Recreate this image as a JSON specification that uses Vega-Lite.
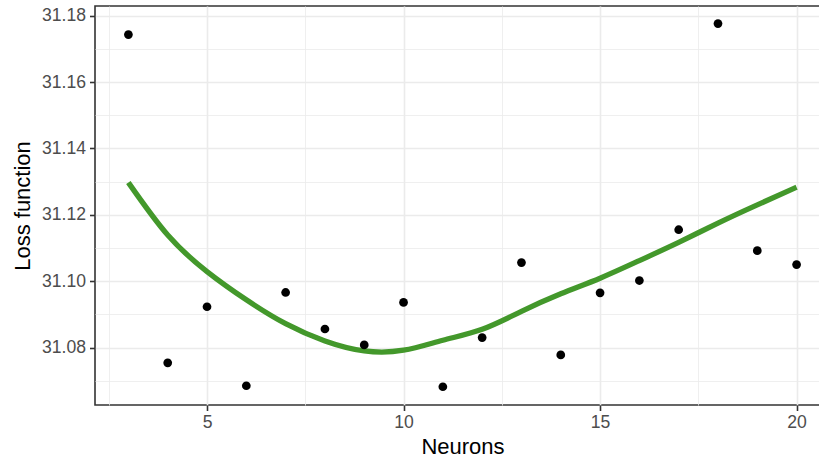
{
  "$schema": "https://vega.github.io/schema/vega-lite/v6.json",
  "width": 735,
  "height": 399,
  "autosize": {"type": "none"},
  "padding": {"left": 95, "top": 6, "right": 0, "bottom": 54},
  "background": "white",
  "config": {
    "view": {"stroke": "#333333", "strokeWidth": 1.6},
    "font": "Liberation Sans"
  },
  "datasets": {
    "points": [
      {"neurons": 3, "loss": 31.1743},
      {"neurons": 4, "loss": 31.0754},
      {"neurons": 5, "loss": 31.0923},
      {"neurons": 6, "loss": 31.0685},
      {"neurons": 7, "loss": 31.0966},
      {"neurons": 8, "loss": 31.0856},
      {"neurons": 9, "loss": 31.0808},
      {"neurons": 10, "loss": 31.0936},
      {"neurons": 11, "loss": 31.0682},
      {"neurons": 12, "loss": 31.0830},
      {"neurons": 13, "loss": 31.1056},
      {"neurons": 14, "loss": 31.0778},
      {"neurons": 15, "loss": 31.0965},
      {"neurons": 16, "loss": 31.1002},
      {"neurons": 17, "loss": 31.1155},
      {"neurons": 18, "loss": 31.1776},
      {"neurons": 19, "loss": 31.1092},
      {"neurons": 20, "loss": 31.1050}
    ],
    "smooth": [
      {"neurons": 3, "loss": 31.1297},
      {"neurons": 4, "loss": 31.1139},
      {"neurons": 5, "loss": 31.1029},
      {"neurons": 6, "loss": 31.0944},
      {"neurons": 7, "loss": 31.0872},
      {"neurons": 8, "loss": 31.0820},
      {"neurons": 9, "loss": 31.0790},
      {"neurons": 10, "loss": 31.0792},
      {"neurons": 11, "loss": 31.0822},
      {"neurons": 12, "loss": 31.0855},
      {"neurons": 13, "loss": 31.0909},
      {"neurons": 14, "loss": 31.0962},
      {"neurons": 15, "loss": 31.1009},
      {"neurons": 16, "loss": 31.1062},
      {"neurons": 17, "loss": 31.1117},
      {"neurons": 18, "loss": 31.1175},
      {"neurons": 19, "loss": 31.1230},
      {"neurons": 20, "loss": 31.1283}
    ]
  },
  "encoding": {
    "x": {
      "field": "neurons",
      "type": "quantitative",
      "scale": {"domain": [2.15, 20.85], "nice": false, "zero": false},
      "axis": {
        "title": "Neurons",
        "values": [2.5, 5, 7.5, 10, 12.5, 15, 17.5, 20],
        "labelExpr": "datum.value % 5 === 0 ? datum.label : ''",
        "domain": false,
        "grid": true,
        "gridColor": "#EBEBEB",
        "gridWidth": {"condition": {"test": "datum.value % 5 === 0", "value": 1.6}, "value": 0.8},
        "tickColor": "#333333",
        "tickWidth": 1.6,
        "tickSize": 5.5,
        "tickOpacity": {"condition": {"test": "datum.value % 5 === 0", "value": 1}, "value": 0},
        "labelFont": "Liberation Sans",
        "labelFontSize": 17.6,
        "labelColor": "#4D4D4D",
        "labelPadding": 3,
        "titleFont": "Liberation Sans",
        "titleFontSize": 22,
        "titleFontWeight": "normal",
        "titleColor": "#000000",
        "titlePadding": 5
      }
    },
    "y": {
      "field": "loss",
      "type": "quantitative",
      "scale": {"domain": [31.0627, 31.1829], "nice": false, "zero": false},
      "axis": {
        "title": "Loss function",
        "values": [31.07, 31.08, 31.09, 31.10, 31.11, 31.12, 31.13, 31.14, 31.15, 31.16, 31.17, 31.18],
        "format": ".2f",
        "labelExpr": "round(datum.value * 100) % 2 === 0 ? datum.label : ''",
        "domain": false,
        "grid": true,
        "gridColor": "#EBEBEB",
        "gridWidth": {"condition": {"test": "round(datum.value * 100) % 2 === 0", "value": 1.6}, "value": 0.8},
        "tickColor": "#333333",
        "tickWidth": 1.6,
        "tickSize": 5.5,
        "tickOpacity": {"condition": {"test": "round(datum.value * 100) % 2 === 0", "value": 1}, "value": 0},
        "labelFont": "Liberation Sans",
        "labelFontSize": 17.6,
        "labelColor": "#4D4D4D",
        "labelPadding": 4,
        "titleFont": "Liberation Sans",
        "titleFontSize": 22,
        "titleFontWeight": "normal",
        "titleColor": "#000000",
        "titlePadding": 7
      }
    }
  },
  "layer": [
    {
      "data": {"name": "smooth"},
      "mark": {"type": "line", "color": "#43982B", "strokeWidth": 5.3, "interpolate": "natural", "strokeCap": "butt"}
    },
    {
      "data": {"name": "points"},
      "mark": {"type": "circle", "color": "#000000", "opacity": 1, "size": 76}
    }
  ]
}
